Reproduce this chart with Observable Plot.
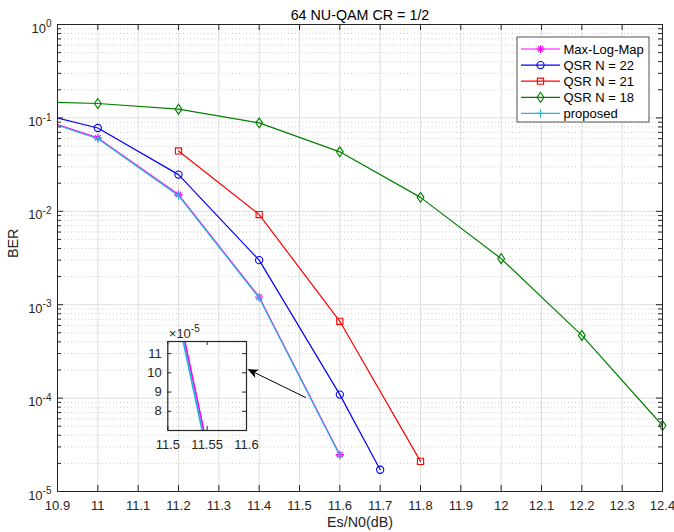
<!DOCTYPE html>
<html><head><meta charset="utf-8">
<script src="https://cdn.jsdelivr.net/npm/d3@7"></script>
<script src="https://cdn.jsdelivr.net/npm/@observablehq/plot@0.6"></script>
<style>html,body{margin:0;padding:0;background:#fff;} #chart{width:674px;height:532px;}</style>
</head><body><div id="chart"></div>
<script>
// ---------- data ----------
const titleText = "64 NU-QAM CR = 1/2";
const xLabel = "Es/N0(dB)";
const yLabel = "BER";
const xTicks = [10.9, 11, 11.1, 11.2, 11.3, 11.4, 11.5, 11.6, 11.7, 11.8, 11.9, 12, 12.1, 12.2, 12.3, 12.4];
const yTicks = [1e-5, 1e-4, 1e-3, 1e-2, 1e-1, 1];
const seriesNames = ["Max-Log-Map", "QSR N = 22", "QSR N = 21", "QSR N = 18", "proposed"];
const seriesColors = ["#ff00ff", "#0000ff", "#ff0000", "#008000", "#22bbd6"];

const snrMaxLog = [10.8, 11.0, 11.2, 11.4, 11.6];
const berMaxLog = [0.1186, 0.0611, 0.0151, 0.00121, 2.48e-5];
const snrQsr22 = [10.8, 11.0, 11.2, 11.4, 11.6, 11.7];
const berQsr22 = [0.128, 0.078, 0.0247, 0.0030, 1.09e-4, 1.71e-5];
const snrQsr21 = [11.2, 11.4, 11.6, 11.8];
const berQsr21 = [0.0443, 0.00923, 6.64e-4, 2.10e-5];
const snrQsr18 = [10.8, 11.0, 11.2, 11.4, 11.6, 11.8, 12.0, 12.2, 12.4];
const berQsr18 = [0.150, 0.1426, 0.124, 0.0885, 0.0433, 0.0141, 0.00311, 4.69e-4, 5.08e-5];
const snrProposed = [10.8, 11.0, 11.2, 11.4, 11.6];
const berProposed = [0.116, 0.0598, 0.0147, 0.00118, 2.42e-5];

// inset (zoomed view), BER in units of 1e-5
const insetXTicks = [11.5, 11.55, 11.6];
const insetYTicks = [8, 9, 10, 11];
const insetExponentLabel = "×10^-5";
const insetSnrMaxLog = [11.5216, 11.5457];
const insetBerMaxLog = [11.63, 7.0];
const insetSnrProposed = [11.5196, 11.5437];
const insetBerProposed = [11.63, 7.0];

// annotation arrow (data coordinates)
const arrowFrom = [11.517, 1.0e-4];
const arrowTo = [11.372, 2.02e-4];

// ---------- styling / layout ----------
const FONT = "'Liberation Sans', Arial, Helvetica, sans-serif";
const W = 674, H = 532, ML = 57, MR = 12, MT = 24, MB = 41;
const FW = W - ML - MR, FH = H - MT - MB;
const AX = "#262626";

const rad = s => Math.sqrt(s / Math.PI);
const symAsterisk = {draw(c, s) { const r = rad(s), d = r * Math.SQRT1_2;
  c.moveTo(-r, 0); c.lineTo(r, 0); c.moveTo(0, -r); c.lineTo(0, r);
  c.moveTo(-d, -d); c.lineTo(d, d); c.moveTo(-d, d); c.lineTo(d, -d); }};
const symPlus = {draw(c, s) { const r = rad(s);
  c.moveTo(-r, 0); c.lineTo(r, 0); c.moveTo(0, -r); c.lineTo(0, r); }};
const symCircle = {draw(c, s) { const r = rad(s); c.moveTo(r, 0); c.arc(0, 0, r, 0, 2 * Math.PI); c.closePath(); }};
const symSquare = {draw(c, s) { const r = rad(s); c.rect(-r, -r, 2 * r, 2 * r); }};
const symDiamond = {draw(c, s) { const r = rad(s), w = r * 0.68;
  c.moveTo(0, -r); c.lineTo(w, 0); c.lineTo(0, r); c.lineTo(-w, 0); c.closePath(); }};

const seriesSym = [symAsterisk, symCircle, symSquare, symDiamond, symPlus];
const seriesR = [4, 3.6, 3.1, 5, 4];
const seriesSnr = [snrMaxLog, snrQsr22, snrQsr21, snrQsr18, snrProposed];
const seriesBer = [berMaxLog, berQsr22, berQsr21, berQsr18, berProposed];

const series = seriesNames.map((name, i) => ({
  name, color: seriesColors[i], sym: seriesSym[i], r: seriesR[i],
  rows: seriesSnr[i].map((x, j) => ({x, y: seriesBer[i][j]}))
}));

// minor log ticks (2..9 x 10^k)
const yMinor = [];
for (let k = 0; k < yTicks.length - 1; k++) for (let m = 2; m <= 9; m++) yMinor.push(m * yTicks[k]);

const xDomain = [xTicks[0], xTicks[xTicks.length - 1]];
const fmtX = d => String(+d.toFixed(2));

const marks = [
  Plot.gridX(xTicks, {stroke: "#dedede", strokeOpacity: 1, strokeWidth: 1}),
  Plot.ruleY(yMinor, {stroke: "#cccccc", strokeDasharray: "1,2.5", strokeWidth: 1}),
  Plot.ruleY(yTicks, {stroke: "#dedede", strokeWidth: 1}),
];
series.forEach(s => {
  marks.push(Plot.line(s.rows, {x: "x", y: "y", stroke: s.color, strokeWidth: 1.2, clip: true}));
  marks.push(Plot.dot(s.rows.filter(d => d.x >= xDomain[0] && d.x <= xDomain[1]),
    {x: "x", y: "y", symbol: s.sym, r: s.r, stroke: s.color, fill: "none", strokeWidth: 1.1}));
});
marks.push(
  Plot.frame({stroke: AX, strokeWidth: 1}),
  Plot.tickX(xTicks, {x: d => d, insetTop: FH - 6, stroke: AX}),
  Plot.tickX(xTicks, {x: d => d, insetBottom: FH - 6, stroke: AX}),
  Plot.tickY(yTicks, {y: d => d, insetRight: FW - 6, stroke: AX}),
  Plot.tickY(yTicks, {y: d => d, insetLeft: FW - 6, stroke: AX}),
  Plot.tickY(yMinor, {y: d => d, insetRight: FW - 4, stroke: AX}),
  Plot.tickY(yMinor, {y: d => d, insetLeft: FW - 4, stroke: AX}),
  Plot.axisX({ticks: xTicks, tickSize: 0, tickPadding: 9, tickFormat: fmtX, label: null, fill: AX}),
  Plot.axisY({ticks: yTicks, tickSize: 0, tickPadding: 6, dy: 4, tickFormat: d => "10^" + Math.round(Math.log10(d)), label: null, fill: AX}),
  Plot.text([titleText], {frameAnchor: "top", dy: -9.5, lineAnchor: "middle", fontSize: 14.3, fill: "#000"}),
  Plot.text([xLabel], {frameAnchor: "bottom", dy: 31, lineAnchor: "middle", fontSize: 14.3, fill: AX}),
  Plot.text([yLabel], {frameAnchor: "left", dx: -44, rotate: -90, lineAnchor: "middle", fontSize: 14.3, fill: AX})
);

const svg = Plot.plot({
  width: W, height: H, marginLeft: ML, marginRight: MR, marginTop: MT, marginBottom: MB,
  style: {fontFamily: FONT, fontSize: "13px", background: "white", overflow: "visible"},
  x: {domain: xDomain},
  y: {type: "log", domain: [yTicks[0], yTicks[yTicks.length - 1]]},
  marks
});
document.getElementById("chart").appendChild(svg);

// ---------- inset ----------
const IML = 30, IMR = 8, IMT = 16, IMB = 24, IFW = 78.7, IFH = 89;
const IW = IML + IFW + IMR, IH = IMT + IFH + IMB;
const insetRowsMax = insetSnrMaxLog.map((x, j) => ({x, y: insetBerMaxLog[j]}));
const insetRowsProp = insetSnrProposed.map((x, j) => ({x, y: insetBerProposed[j]}));
const inset = Plot.plot({
  width: IW, height: IH, marginLeft: IML, marginRight: IMR, marginTop: IMT, marginBottom: IMB,
  style: {fontFamily: FONT, fontSize: "13px", background: "transparent", overflow: "visible"},
  x: {domain: [insetXTicks[0], insetXTicks[insetXTicks.length - 1]]},
  y: {domain: [7.0, 11.63]},
  marks: [
    Plot.line(insetRowsMax, {x: "x", y: "y", stroke: seriesColors[0], strokeWidth: 1.8, clip: true}),
    Plot.line(insetRowsProp, {x: "x", y: "y", stroke: seriesColors[4], strokeWidth: 1.8, clip: true}),
    Plot.frame({stroke: AX, strokeWidth: 1.2}),
    Plot.tickX(insetXTicks, {x: d => d, insetTop: IFH - 4, stroke: AX}),
    Plot.tickX(insetXTicks, {x: d => d, insetBottom: IFH - 4, stroke: AX}),
    Plot.tickY(insetYTicks, {y: d => d, insetRight: IFW - 4, stroke: AX}),
    Plot.tickY(insetYTicks, {y: d => d, insetLeft: IFW - 4, stroke: AX}),
    Plot.axisX({ticks: insetXTicks, tickSize: 0, tickPadding: 9, tickFormat: fmtX, label: null, fill: AX}),
    Plot.axisY({ticks: insetYTicks, tickSize: 0, tickPadding: 6, tickFormat: d => String(d), label: null, fill: AX}),
    Plot.text([insetExponentLabel], {frameAnchor: "top-left", dx: 1, dy: -8, textAnchor: "start", lineAnchor: "middle", fill: AX})
  ]
});
const gInset = document.createElementNS("http://www.w3.org/2000/svg", "g");
for (const a of Array.from(inset.attributes)) {
  if (!["width", "height", "viewBox", "xmlns", "xmlns:xlink"].includes(a.name)) gInset.setAttribute(a.name, a.value);
}
gInset.setAttribute("transform", `translate(${167.3 - IML},${341 - IMT})`);
while (inset.firstChild) gInset.appendChild(inset.firstChild);
svg.appendChild(gInset);

// ---------- superscripts ----------
d3.select(svg).selectAll("text").each(function () {
  if (this.children.length) return;
  const t = this.textContent;
  if (!t.includes("^")) return;
  const [b, e] = t.split("^");
  this.textContent = b;
  d3.select(this).append("tspan").attr("dy", -5.5).attr("font-size", "10px").text(e);
});

// ---------- arrow ----------
const sx = svg.scale("x"), sy = svg.scale("y");
const ax1 = sx.apply(arrowFrom[0]), ay1 = sy.apply(arrowFrom[1]);
const ax2 = sx.apply(arrowTo[0]), ay2 = sy.apply(arrowTo[1]);
const ang = Math.atan2(ay2 - ay1, ax2 - ax1);
const HL = 11, HW = 4.5, NB = 8;
const ux = Math.cos(ang), uy = Math.sin(ang), px = -uy, py = ux;
const bx = ax2 - ux * HL, by = ay2 - uy * HL;
const nx = ax2 - ux * NB, ny = ay2 - uy * NB;
const ag = d3.select(svg).append("g");
ag.append("line").attr("x1", ax1).attr("y1", ay1).attr("x2", nx).attr("y2", ny).attr("stroke", "#000").attr("stroke-width", 1);
ag.append("path").attr("d", `M${ax2},${ay2}L${bx + px * HW},${by + py * HW}L${nx},${ny}L${bx - px * HW},${by - py * HW}Z`).attr("fill", "#000");

// ---------- legend ----------
const lg = d3.select(svg).append("g").attr("font-family", FONT).attr("font-size", 13).attr("text-anchor", "start");
lg.append("rect").attr("x", 517).attr("y", 37).attr("width", 132).attr("height", 85)
  .attr("fill", "white").attr("stroke", AX).attr("stroke-width", 0.8);
series.forEach((s, i) => {
  const cy = 49 + i * 16.1;
  lg.append("line").attr("x1", 521).attr("x2", 560).attr("y1", cy).attr("y2", cy)
    .attr("stroke", s.color).attr("stroke-width", 1.2);
  lg.append("path").attr("transform", `translate(540.5,${cy})`)
    .attr("d", d3.symbol(s.sym, Math.PI * s.r * s.r)())
    .attr("fill", "none").attr("stroke", s.color).attr("stroke-width", 1.1);
  lg.append("text").attr("x", 563.5).attr("y", cy).attr("dy", "0.35em").attr("fill", "#000")
    .attr("text-anchor", "start").text(s.name);
});
</script>
</body></html>
